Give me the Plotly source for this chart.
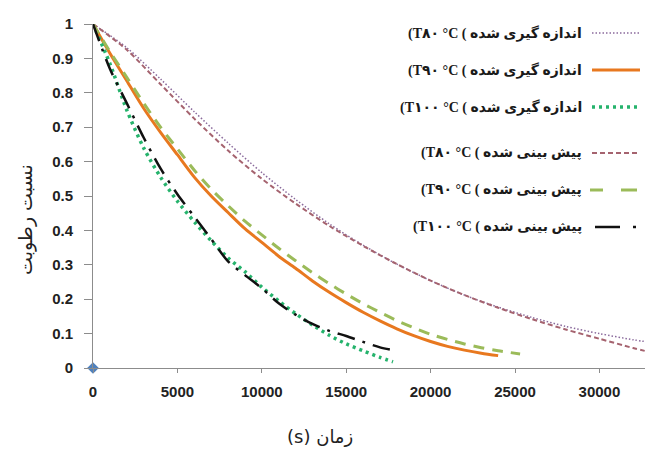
import plotly.graph_objects as go

# ---- data (time in s, moisture ratio) ----
t80_meas_x = [0, 2000, 4000, 6000, 8000, 10000, 12000, 14000, 16000, 18000, 20000,
              22000, 24000, 26000, 28000, 30000, 32000, 33000]
t80_meas_y = [1.0, 0.931, 0.84, 0.745, 0.654, 0.568, 0.49, 0.419, 0.357, 0.302, 0.254,
              0.212, 0.177, 0.147, 0.121, 0.1, 0.082, 0.075]

t90_meas_x = [0, 1000, 2000, 3000, 4000, 5000, 6000, 7000, 8000, 9000, 10000, 11000,
              12000, 13000, 14000, 15000, 16000, 17000, 18000, 19000, 20000, 21000,
              22000, 23000, 24000]
t90_meas_y = [1.0, 0.915, 0.835, 0.755, 0.685, 0.62, 0.555, 0.5, 0.452, 0.405, 0.365, 0.325,
              0.29, 0.253, 0.22, 0.19, 0.162, 0.137, 0.114, 0.094, 0.077, 0.063,
              0.052, 0.043, 0.036]

t100_meas_x = [0, 1000, 2000, 3000, 4000, 5000, 6000, 7000, 8000, 9000, 10000,
               11000, 12000, 13000, 14000, 15000, 16000, 17000, 17770]
t100_meas_y = [1.0, 0.885, 0.75, 0.64, 0.555, 0.485, 0.425, 0.37, 0.32, 0.28, 0.235,
               0.195, 0.158, 0.125, 0.095, 0.07, 0.05, 0.031, 0.018]

t80_pred_x = [0, 2000, 4000, 6000, 8000, 10000, 12000, 14000, 16000, 18000, 20000,
              22000, 24000, 26000, 28000, 30000, 32000, 33000]
t80_pred_y = [1.0, 0.925, 0.825, 0.725, 0.632, 0.55, 0.478, 0.413, 0.355, 0.302, 0.254,
              0.212, 0.175, 0.142, 0.112, 0.085, 0.058, 0.046]

t90_pred_x = [0, 1000, 2000, 3000, 4000, 5000, 6000, 7000, 8000, 9000, 10000, 11000,
              12000, 13000, 14000, 15000, 16000, 17000, 18000, 19000, 20000, 21000,
              22000, 23000, 24000, 25300]
t90_pred_y = [1.0, 0.92, 0.845, 0.77, 0.7, 0.637, 0.575, 0.52, 0.472, 0.427, 0.387, 0.348,
              0.312, 0.277, 0.245, 0.215, 0.187, 0.162, 0.138, 0.117, 0.098, 0.083,
              0.07, 0.059, 0.05, 0.041]

t100_pred_x = [0, 1000, 2000, 3000, 4000, 5000, 6000, 7000, 8000, 9000, 10000,
               11000, 12000, 13000, 14000, 15000, 16000, 17000, 17770]
t100_pred_y = [1.0, 0.87, 0.77, 0.67, 0.58, 0.505, 0.44, 0.375, 0.31, 0.27, 0.232,
               0.188, 0.155, 0.128, 0.108, 0.093, 0.076, 0.06, 0.052]

origin_x = [0]
origin_y = [0]

x_ticks = [0, 5000, 10000, 15000, 20000, 25000, 30000]
y_ticks = [0, 0.1, 0.2, 0.3, 0.4, 0.5, 0.6, 0.7, 0.8, 0.9, 1]
y_tick_text = ["0", "0.1", "0.2", "0.3", "0.4", "0.5", "0.6", "0.7", "0.8", "0.9", "1"]

legend_labels = [
    "(T۸۰ °C ( اندازه گیری شده",
    "(T۹۰ °C ( اندازه گیری شده",
    "(T۱۰۰ °C ( اندازه گیری شده",
    "(T۸۰ °C ( پیش بینی شده",
    "(T۹۰ °C ( پیش بینی شده",
    "(T۱۰۰ °C ( پیش بینی شده",
]

styles = [
    dict(color="#8A6A9C", width=1.5, dash="1.5px,2px"),
    dict(color="#E8781F", width=3, dash="solid"),
    dict(color="#25B36C", width=3.5, dash="3px,4px"),
    dict(color="#A5636F", width=2, dash="5px,3px"),
    dict(color="#9BBB59", width=3, dash="11px,8px"),
    dict(color="#111111", width=2.5, dash="18px,8px,3px,8px"),
]

series = [
    (t80_meas_x, t80_meas_y),
    (t90_meas_x, t90_meas_y),
    (t100_meas_x, t100_meas_y),
    (t80_pred_x, t80_pred_y),
    (t90_pred_x, t90_pred_y),
    (t100_pred_x, t100_pred_y),
]

fig = go.Figure()
for (xs, ys), st, name in zip(series, styles, legend_labels):
    fig.add_trace(go.Scatter(x=xs, y=ys, mode="lines", name=name,
                             line=dict(color=st["color"], width=st["width"],
                                       dash=st["dash"], shape="spline", smoothing=0.8),
                             showlegend=False))

fig.add_trace(go.Scatter(x=origin_x, y=origin_y, mode="markers",
                         marker=dict(symbol="diamond", size=9, color="#4F81BD"),
                         cliponaxis=False, showlegend=False))

# ---- layout geometry ----
L, R_, T, B = 93, 0, 24, 81
W, H = 645, 449
pw = W - L - R_
ph = H - T - B


def px2paper_x(px):
    return (px - L) / pw


def px2paper_y(py):
    return (H - B - py) / ph


# ---- custom right-to-left legend ----
rows_py = [33, 70, 107, 153, 190, 227]
for i, (lab, st) in enumerate(zip(legend_labels, styles)):
    yp = px2paper_y(rows_py[i])
    fig.add_annotation(x=px2paper_x(584), y=yp, xref="paper", yref="paper",
                       text="<b>" + lab + "</b>", showarrow=False,
                       xanchor="right", yanchor="middle",
                       font=dict(family="Liberation Serif, DejaVu Sans", size=14,
                                 color="#1a1a1a"))
    if i == 5:
        fig.add_shape(type="line", xref="paper", yref="paper",
                      x0=px2paper_x(595), x1=px2paper_x(620), y0=yp, y1=yp,
                      line=dict(color=st["color"], width=2.5))
        fig.add_shape(type="line", xref="paper", yref="paper",
                      x0=px2paper_x(633), x1=px2paper_x(636), y0=yp, y1=yp,
                      line=dict(color=st["color"], width=2.5))
    elif i == 4:
        for a, b in [(590, 603), (621, 637)]:
            fig.add_shape(type="line", xref="paper", yref="paper",
                          x0=px2paper_x(a), x1=px2paper_x(b), y0=yp, y1=yp,
                          line=dict(color=st["color"], width=st["width"]))
    else:
        fig.add_shape(type="line", xref="paper", yref="paper",
                      x0=px2paper_x(592), x1=px2paper_x(640), y0=yp, y1=yp,
                      line=dict(color=st["color"], width=st["width"], dash=st["dash"]))

# ---- axis titles ----
fig.add_annotation(x=px2paper_x(320), y=px2paper_y(437), xref="paper", yref="paper",
                   text="(s) زمان", showarrow=False, xanchor="center", yanchor="middle",
                   font=dict(family="DejaVu Sans, Liberation Sans", size=18, color="#222222"))
fig.add_annotation(x=px2paper_x(25), y=px2paper_y(220), xref="paper", yref="paper",
                   text="نسبت رطوبت", showarrow=False, textangle=-90,
                   xanchor="center", yanchor="middle",
                   font=dict(family="DejaVu Sans, Liberation Sans", size=19, color="#222222"))

tickfont = dict(family="Liberation Sans, Arial", size=15, color="#222222")

fig.update_layout(
    width=W, height=H,
    margin=dict(l=L, r=R_, t=T, b=B),
    paper_bgcolor="white", plot_bgcolor="white",
    xaxis=dict(range=[0, 32700], tickvals=x_ticks,
               ticktext=["<b>%d</b>" % v for v in x_ticks],
               showgrid=False, zeroline=False, showline=True, linecolor="#8c8c8c",
               linewidth=1, ticks="outside", ticklen=4, tickcolor="#8c8c8c",
               ticklabelstandoff=6, tickfont=tickfont),
    yaxis=dict(range=[0, 1], tickvals=y_ticks,
               ticktext=["<b>%s</b>" % t for t in y_tick_text],
               showgrid=False, zeroline=False, showline=True, linecolor="#8c8c8c",
               linewidth=1, ticks="outside", ticklen=8, tickcolor="#8c8c8c",
               ticklabelstandoff=8, tickfont=tickfont),
)

fig.write_html("out.html")
